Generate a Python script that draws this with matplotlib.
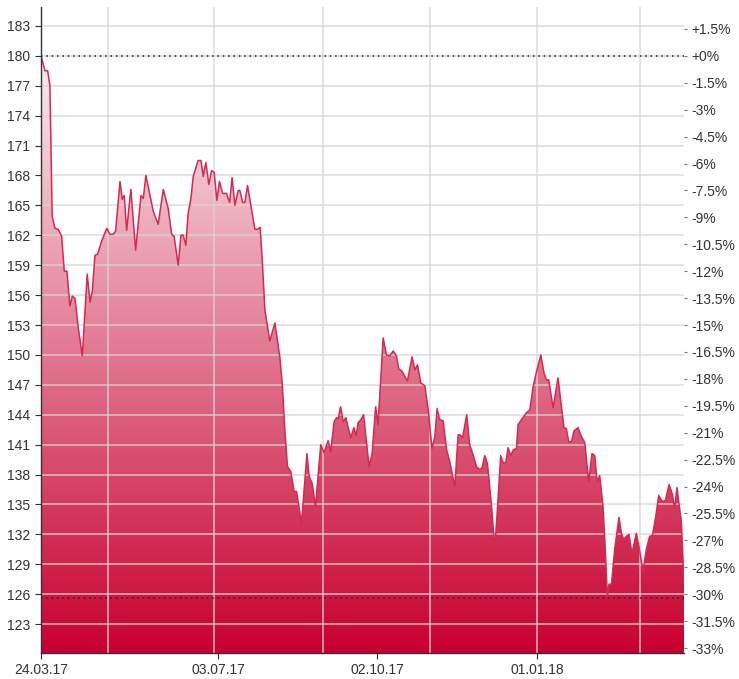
import matplotlib
matplotlib.use("Agg")
import matplotlib.pyplot as plt
import matplotlib.dates as mdates
from matplotlib.patches import Polygon
from matplotlib.colors import LinearSegmentedColormap
import numpy as np

plt.rcParams["font.family"] = ["Liberation Sans", "DejaVu Sans"]

# price series: days after 24.03.17 and closing value
start = np.datetime64("2017-03-24")
day_offsets = [
    0.0, 2.3, 3.8, 5.1, 6.4, 8.0, 9.9, 11.8, 13.3, 14.8, 16.5, 17.9, 19.4, 21.3, 23.6,
    26.4, 28.0, 29.3, 30.8, 32.3, 34.6, 37.5, 39.4, 41.2, 42.6, 45.1, 46.4, 47.5, 48.9,
    51.3, 54.0, 57.1, 58.4, 59.9, 64.1, 66.9, 69.8, 72.6, 74.6, 76.0, 78.3, 79.9, 81.2,
    82.7, 84.0, 85.6, 86.9, 88.3, 89.7, 91.3, 92.6, 94.1, 95.8, 97.4, 98.9, 100.4, 101.9,
    103.7, 105.9, 107.7, 109.1, 110.7, 112.6, 113.5, 115.1, 116.4, 117.9, 120.2, 122.1,
    123.6, 125.1, 126.3, 127.8, 130.6, 133.5, 136.3, 137.7, 139.2, 140.7, 142.6, 144.5,
    145.9, 148.7, 151.8, 153.1, 154.8, 156.7, 159.7, 161.5, 163.9, 165.4, 167.3, 168.7,
    169.6, 171.0, 172.5, 174.0, 175.7, 176.9, 178.6, 179.9, 181.0, 182.6, 184.1, 185.8,
    187.3, 189.0, 191.0, 192.4, 194.0, 195.3, 197.2, 199.1, 201.0, 202.9, 204.2, 205.9,
    209.2, 211.8, 213.4, 214.9, 216.8, 219.1, 221.0, 223.2, 224.8, 226.1, 227.6, 229.5,
    231.5, 233.3, 236.2, 238.1, 239.0, 240.6, 243.0, 244.7, 246.6, 248.6, 250.4, 251.8,
    253.3, 254.8, 257.1, 259.0, 260.5, 262.4, 263.7, 265.3, 266.6, 268.1, 269.7, 271.4,
    272.3, 274.6, 277.1, 279.0, 280.9, 282.8, 285.3, 287.1, 288.5, 289.8, 292.3, 295.1,
    298.5, 299.9, 301.2, 302.8, 304.3, 306.5, 308.5, 310.4, 312.6, 314.5, 316.1, 317.4,
    318.9, 320.8, 322.2, 323.3, 324.2, 325.6, 327.5, 329.9, 331.3, 332.6, 334.1, 335.6,
    337.3, 339.8, 341.3, 343.6, 345.5, 347.4, 349.0, 350.9, 352.6, 354.5, 356.4, 358.5,
    360.4, 361.7, 363.0, 364.2, 365.5, 367.0,
]
prices = [
    180.0, 178.5, 178.5, 177.0, 163.9, 162.7, 162.6, 161.9, 158.4, 158.4, 154.9, 155.9,
    155.7, 152.7, 149.9, 158.1, 155.3, 156.4, 160.0, 160.1, 161.4, 162.7, 162.1, 162.1,
    162.4, 167.4, 165.6, 166.0, 162.5, 166.6, 160.5, 166.0, 165.7, 168.0, 164.4, 163.1,
    166.6, 164.7, 162.1, 161.9, 159.0, 162.0, 162.0, 161.0, 164.2, 165.7, 167.9, 168.7,
    169.5, 169.5, 167.9, 169.3, 167.1, 168.5, 168.3, 165.5, 167.4, 166.2, 166.2, 165.3,
    167.8, 165.0, 166.5, 166.5, 165.3, 165.3, 167.0, 164.6, 162.6, 162.6, 162.8, 159.5,
    154.5, 151.4, 153.2, 149.8, 147.2, 142.5, 138.8, 138.3, 136.3, 136.3, 133.1, 140.1,
    137.8, 137.1, 134.8, 141.0, 140.2, 141.4, 140.3, 143.3, 143.7, 143.6, 144.8, 143.3,
    143.7, 142.5, 141.7, 142.7, 141.9, 143.2, 143.5, 144.0, 141.2, 138.8, 140.1, 144.8,
    143.0, 147.8, 151.7, 150.0, 149.9, 150.4, 149.9, 148.6, 148.4, 147.4, 149.8, 148.5,
    149.0, 147.2, 146.9, 144.5, 140.6, 141.8, 144.6, 143.5, 143.4, 140.5, 139.3, 136.8,
    142.0, 142.0, 141.7, 144.0, 141.0, 140.0, 138.8, 138.5, 138.7, 139.9, 139.1, 135.0,
    130.6, 134.5, 139.9, 139.2, 139.2, 140.7, 139.9, 140.5, 140.6, 143.0, 143.6, 144.2,
    144.5, 146.8, 148.3, 150.0, 148.2, 147.5, 147.5, 144.7, 147.7, 142.7, 142.6, 141.3,
    141.3, 142.4, 142.7, 141.8, 141.2, 137.3, 140.1, 139.9, 137.3, 137.9, 134.8, 130.1,
    125.7, 127.0, 127.0, 130.6, 133.7, 132.1, 131.5, 131.8, 132.0, 130.1, 132.1, 130.8,
    128.3, 130.5, 131.8, 131.9, 133.8, 135.9, 135.3, 135.4, 137.0, 136.0, 134.6, 136.7,
    135.0, 133.3, 127.0,
]
base_price = 180.0
low_price = 125.6
date_labels = ["2017-03-24", "2017-07-03", "2017-10-02", "2018-01-01"]
grid_dates = ["2017-05-01", "2017-07-01", "2017-09-01", "2017-11-01", "2018-01-01", "2018-03-01"]
left_ticks = list(range(123, 184, 3))
pct_ticks = [1.5 - 1.5 * i for i in range(24)]

y_lo, y_hi = 120.1, 184.9
x = mdates.date2num(start + (np.array(day_offsets) * 24).astype("timedelta64[h]"))
y = np.array(prices)
x_end = x[-1]

fig = plt.figure(figsize=(7.39, 6.79), dpi=100)
ax = fig.add_axes([41 / 739, 26 / 679, (684 - 41) / 739, (653 - 7) / 679])
ax.set_xlim(x[0], x_end)
ax.set_ylim(y_lo, y_hi)

# gradient fill clipped to the area under the line
cmap = LinearSegmentedColormap.from_list("fade", ["#c8002f", "#e27992", "#fdf3f6"])
grad = np.linspace(0, 1, 256).reshape(-1, 1)
im = ax.imshow(grad, aspect="auto", cmap=cmap, origin="lower",
               extent=[x[0], x_end, y_lo, 181.0], zorder=1)
verts = [(x[0], y_lo)] + list(zip(x, y)) + [(x_end, y_lo)]
clip = Polygon(verts, closed=True, facecolor="none", edgecolor="none", transform=ax.transData)
ax.add_patch(clip)
im.set_clip_path(clip)

ax.plot(x, y, color="#d42a52", linewidth=1.1, zorder=4)

ax.axhline(base_price, color="#222222", linestyle=(0, (1, 2.5)), linewidth=1.1, zorder=5)
ax.axhline(low_price, color="#222222", linestyle=(0, (1, 2.5)), linewidth=1.1, zorder=5)

# gridlines
ax.set_yticks(left_ticks)
for t in left_ticks:
    ax.axhline(t, color="#d6d6d6", linewidth=1.1, alpha=0.85, zorder=3)
for d in grid_dates:
    ax.axvline(mdates.datestr2num(d), color="#d6d6d6", linewidth=1.1, alpha=0.85, zorder=3)

ax.set_xticks([mdates.datestr2num(d) for d in date_labels])
ax.set_xticklabels([np.datetime64(d).astype(object).strftime("%d.%m.%y") for d in date_labels])

for s in ["top", "right"]:
    ax.spines[s].set_visible(False)
for s in ["left", "bottom"]:
    ax.spines[s].set_color("#333333")
    ax.spines[s].set_linewidth(1.0)
    ax.spines[s].set_zorder(6)
ax.tick_params(axis="both", labelsize=10, colors="#333333", length=4, width=0.8, pad=3)
ax.tick_params(axis="y", pad=4)

# right axis in percent versus the starting price
ax2 = ax.twinx()
ax2.set_ylim((y_lo / base_price - 1) * 100, (y_hi / base_price - 1) * 100)
ax2.set_yticks(pct_ticks)
ax2.set_yticklabels([("+" if p >= 0 else "") + f"{p:g}%" for p in pct_ticks])
for s in ax2.spines.values():
    s.set_visible(False)
ax2.tick_params(axis="y", labelsize=10, colors="#333333", length=2, width=0.8, pad=3)
ax2.tick_params(axis="y", colors="#777777", labelcolor="#333333")

fig.savefig("out.png", dpi=100)
